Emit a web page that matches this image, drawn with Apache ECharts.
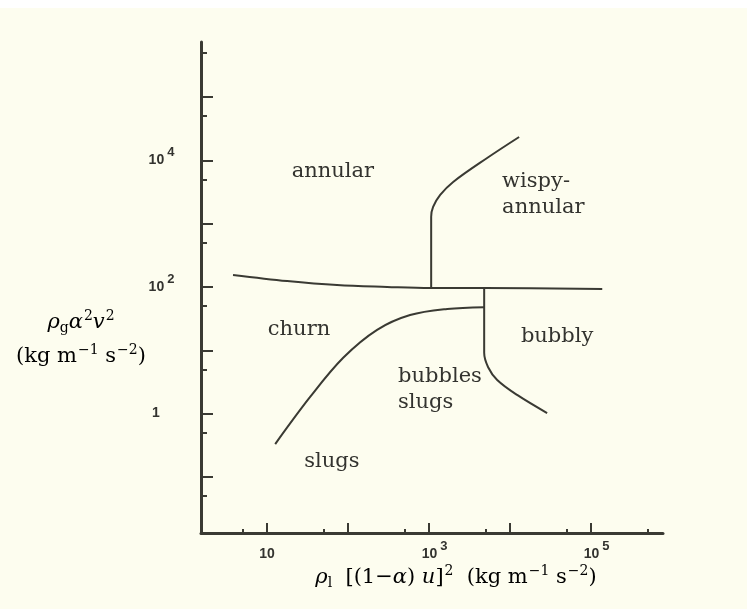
<!DOCTYPE html>
<html>
<head>
<meta charset="utf-8">
<script src="https://cdn.jsdelivr.net/npm/echarts@6/dist/echarts.min.js"></script>
<style>
  html, body { margin: 0; padding: 0; background: #ffffff; }
  #chart { width: 747px; height: 609px; }
</style>
</head>
<body>
<div id="chart"></div>
<script>
// Two-phase flow regime map: gas vs liquid momentum flux, both on log scales.

// Axis extents
const xRange = [1.53, 7.7e5];
const yRange = [0.013, 7.4e5];

// Tick positions
const xMajorTicks = [10, 100, 1e3, 1e4, 1e5];
const xMinorTicks = [5, 50, 500, 5e3, 5e4, 5e5];
const xLabelTicks = [10, 1e3, 1e5];
const yMajorTicks = [0.1, 1, 10, 100, 1e3, 1e4, 1e5];
const yMinorTicks = [0.05, 0.5, 5, 50, 500, 5e3, 5e4, 5e5];
const yLabelTicks = [1, 100, 1e4];

// Regime boundaries, [liquid flux, gas flux]
const annularChurn = [[3.8, 155], [17.7, 124], [73, 107], [303, 100], [1030, 96], [4780, 96], [1.37e5, 93]];
const wispyAnnularEdge = [[1060, 96], [1060, 1280], [1120, 1840], [1370, 2840], [1980, 4560], [5200, 10900], [12900, 23400]];
const churnSlugEdge = [[12.6, 0.33], [34, 1.83], [87, 7.6], [228, 21], [582, 36], [1670, 45], [4780, 48]];
const bubblyEdge = [[4780, 96], [4780, 9.1], [5350, 5.4], [6920, 3.4], [12200, 1.97], [28600, 1.02]];

// Regime names and where they sit on the map
const regionNames = ['annular', 'wispy-\nannular', 'churn', 'bubbly', 'bubbles\nslugs', 'slugs'];
const regionX = [65, 7960, 24.8, 38000, 414, 63];
const regionY = [6560, 2840, 21, 16.2, 2.36, 0.172];

const ink = '#3a3a33';
const textInk = '#33332f';
const paper = '#fdfdef';
const tickFont = 'Liberation Sans, Arial, sans-serif';
const serif = 'DejaVu Serif, serif';

function powLabel(v) {
  const e = Math.round(Math.log10(v));
  if (e === 0) return '{b|1}';
  if (e === 1) return '{b|10}';
  return '{bp|10}{s|' + e + '}';
}
const tickRich = {
  b: { fontFamily: tickFont, fontWeight: 'bold', fontSize: 14, color: textInk, lineHeight: 30 },
  bp: { fontFamily: tickFont, fontWeight: 'bold', fontSize: 14, color: textInk, lineHeight: 30, padding: [0, 0, 0, 11] },
  s: { fontFamily: tickFont, fontWeight: 'bold', fontSize: 13, color: textInk, lineHeight: 14, padding: [0, 0, 16, 3] }
};

function logAxis(range, extra) {
  return Object.assign({
    type: 'log',
    logBase: 10,
    min: range[0],
    max: range[1],
    splitLine: { show: false },
    minorTick: { show: false },
    axisLine: { show: false, onZero: false }
  }, extra);
}

const boundaryStyle = { color: ink, width: 2 };
function boundary(data) {
  return {
    type: 'line',
    data: data,
    symbol: 'none',
    smooth: 0.35,
    lineStyle: boundaryStyle,
    silent: true,
    z: 3
  };
}

const titleRich = {
  i: { fontFamily: serif, fontStyle: 'italic', fontSize: 21, lineHeight: 34, color: textInk },
  r: { fontFamily: serif, fontSize: 21, lineHeight: 34, color: textInk },
  sub: { fontFamily: serif, fontSize: 14, lineHeight: 15, padding: [10, 0, 0, 0], color: textInk },
  sup: { fontFamily: serif, fontSize: 14, lineHeight: 15, padding: [0, 0, 14, 1], color: textInk }
};

const chart = echarts.init(document.getElementById('chart'), null, { renderer: 'canvas' });

chart.setOption({
  backgroundColor: paper,
  animation: false,
  grid: { left: 201, right: 84, top: 42, bottom: 76 },
  xAxis: [
    logAxis(xRange, {
      position: 'bottom',
      axisLine: { show: true, onZero: false, lineStyle: { color: ink, width: 3 } },
      axisTick: { show: true, inside: true, length: 10, customValues: xMajorTicks, lineStyle: { color: ink, width: 2 } },
      axisLabel: { customValues: xLabelTicks, formatter: powLabel, rich: tickRich, margin: 6 }
    }),
    logAxis(xRange, {
      position: 'bottom',
      axisTick: { show: true, inside: true, length: 4, customValues: xMinorTicks, lineStyle: { color: ink, width: 2 } },
      axisLabel: { show: false }
    })
  ],
  yAxis: [
    logAxis(yRange, {
      position: 'left',
      axisLine: { show: true, onZero: false, lineStyle: { color: ink, width: 3 } },
      axisTick: { show: true, inside: true, length: 12, customValues: yMajorTicks, lineStyle: { color: ink, width: 2 } },
      axisLabel: { customValues: yLabelTicks, formatter: powLabel, rich: tickRich, margin: 45, align: 'center' }
    }),
    logAxis(yRange, {
      position: 'left',
      axisTick: { show: true, inside: true, length: 6, customValues: yMinorTicks, lineStyle: { color: ink, width: 2 } },
      axisLabel: { show: false }
    })
  ],
  graphic: [
    { type: 'rect', left: 0, top: 0, shape: { width: 747, height: 8 }, style: { fill: '#ffffff' }, silent: true },
    {
      type: 'text', x: 81, y: 340, silent: true,
      style: {
        text: '{i|ρ}{sub|g}{i|α}{sup|2}{i|v}{sup|2}\n{r|(kg m}{sup|−1}{r| s}{sup|−2}{r|)}',
        align: 'center', verticalAlign: 'middle',
        rich: titleRich
      }
    },
    {
      type: 'text', x: 456, y: 578, silent: true,
      style: {
        text: '{i|ρ}{sub|l}{r|  [(1−}{i|α}{r|) }{i|u}{r|]}{sup|2}{r|  (kg m}{sup|−1}{r| s}{sup|−2}{r|)}',
        align: 'center', verticalAlign: 'middle',
        rich: titleRich
      }
    }
  ],
  series: [
    boundary(annularChurn),
    boundary(wispyAnnularEdge),
    boundary(churnSlugEdge),
    boundary(bubblyEdge),
    {
      type: 'scatter',
      silent: true,
      symbolSize: 1,
      itemStyle: { color: textInk, opacity: 0 },
      data: regionNames.map(function (name, i) {
        const multi = name.indexOf('\n') >= 0;
        return {
          name: name,
          value: [regionX[i], regionY[i]],
          label: { align: multi ? 'left' : 'center' }
        };
      }),
      label: {
        show: true,
        position: 'inside',
        formatter: function (p) { return '{t|' + p.name.split('\n').join('}\n{t|') + '}'; },
        rich: {
          t: { fontFamily: serif, fontSize: 21, lineHeight: 26, color: textInk, opacity: 1 }
        }
      },
      z: 4
    }
  ]
});
</script>
</body>
</html>
